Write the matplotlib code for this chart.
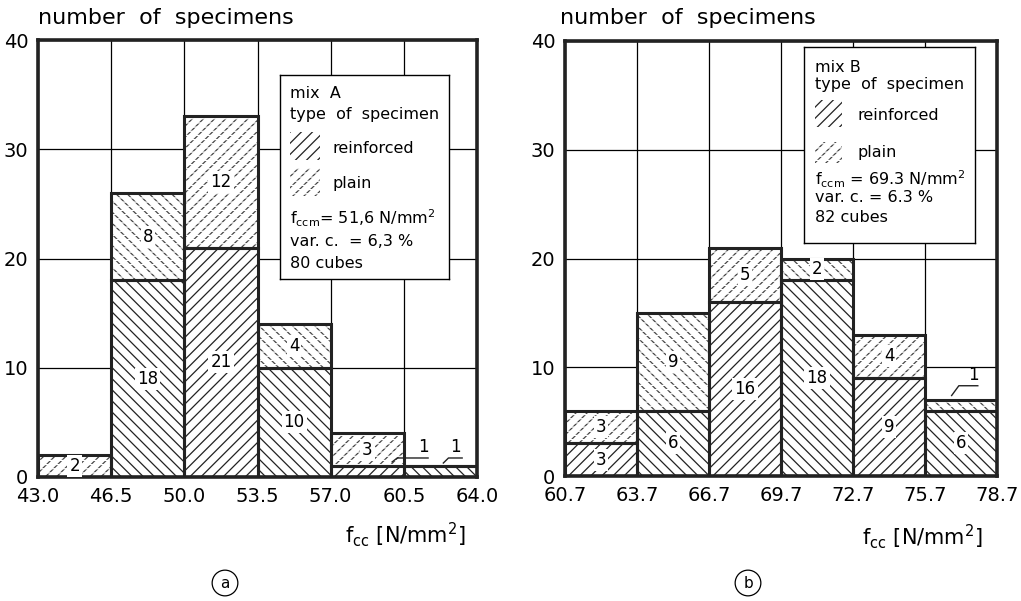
import numpy as np
import matplotlib
matplotlib.use("Agg")
import matplotlib.pyplot as plt
from matplotlib.patches import Rectangle

plt.rcParams["font.family"] = "DejaVu Sans"
plt.rcParams["mathtext.default"] = "regular"
plt.rcParams["hatch.linewidth"] = 0.9

# mix A (panel a)
edges_a = [43.0, 46.5, 50.0, 53.5, 57.0, 60.5, 64.0]
ticks_a = ["43.0", "46.5", "50.0", "53.5", "57.0", "60.5", "64.0"]
reinf_a = [0, 18, 21, 10, 1, 1]
plain_a = [2, 8, 12, 4, 3, 0]
legend_a = ["mix  A", "type  of  specimen", "reinforced", "plain",
            "f$_{ccm}$= 51,6 N/mm$^2$", "var. c.  = 6,3 %", "80 cubes"]

# mix B (panel b)
edges_b = [60.7, 63.7, 66.7, 69.7, 72.7, 75.7, 78.7]
ticks_b = ["60.7", "63.7", "66.7", "69.7", "72.7", "75.7", "78.7"]
reinf_b = [3, 6, 16, 18, 9, 6]
plain_b = [3, 9, 5, 2, 4, 1]
legend_b = ["mix B", "type  of  specimen", "reinforced", "plain",
            "f$_{ccm}$ = 69.3 N/mm$^2$", "var. c. = 6.3 %", "82 cubes"]

W, H = 1021, 601
DARK = "#222222"
HATCH_R = "///"
HATCH_L = "\\\\\\"
CUT = "----"


def fig_rect(x0, y0, x1, y1):
    # pixel box -> figure fraction rect
    return [x0 / W, 1 - y1 / H, (x1 - x0) / W, (y1 - y0) / H]


def draw_panel(ax, edges, ticks, reinf, plain):
    left = np.array(edges[:-1])
    width = np.diff(edges)
    reinf = np.array(reinf)
    plain = np.array(plain)
    hatches = [HATCH_R if i % 2 == 0 else HATCH_L for i in range(len(left))]

    for i in range(len(left)):
        # reinforced part
        ax.bar(left[i], reinf[i], width[i], align="edge", color="white",
               edgecolor=DARK, lw=0, hatch=hatches[i], zorder=2)
        # plain part, hatch broken into dashes by white lines
        ax.bar(left[i], plain[i], width[i], bottom=reinf[i], align="edge",
               color="white", edgecolor="#444444", lw=0, hatch=hatches[i], zorder=2)
        ax.bar(left[i], plain[i], width[i], bottom=reinf[i], align="edge",
               fill=False, edgecolor="white", lw=0, hatch=CUT, zorder=2.1)
        # outlines
        ax.bar(left[i], reinf[i], width[i], align="edge", fill=False,
               edgecolor=DARK, lw=2.2, zorder=3)
        ax.bar(left[i], plain[i], width[i], bottom=reinf[i], align="edge",
               fill=False, edgecolor=DARK, lw=2.2, zorder=3)

        for val, base in ((reinf[i], 0), (plain[i], reinf[i])):
            if val >= 2:
                ax.text(left[i] + width[i] / 2, base + val / 2, str(val),
                        ha="center", va="center", fontsize=12, zorder=4,
                        bbox=dict(facecolor="white", edgecolor="none", pad=1.5))

    ax.set_xlim(edges[0], edges[-1])
    ax.set_ylim(0, 40)
    ax.set_xticks(edges)
    ax.set_xticklabels(ticks)
    ax.set_yticks([0, 10, 20, 30, 40])
    ax.grid(True, color="black", lw=0.9)
    ax.set_axisbelow(True)
    ax.tick_params(length=0, labelsize=14, pad=7)
    for s in ax.spines.values():
        s.set_linewidth(2.6)
        s.set_color(DARK)


def leader(ax, edges, i, top, f0, f1, x_end, dy0, dy1, label_x):
    w = edges[i + 1] - edges[i]
    xs = [edges[i] + f0 * w, edges[i] + f1 * w, x_end]
    ys = [top + dy0, top + dy1, top + dy1]
    ax.plot(xs, ys, color=DARK, lw=1, zorder=5)
    ax.text(label_x, top + dy1 + 0.15, "1", ha="center", va="bottom",
            fontsize=12, zorder=5)


def draw_legend(rect, lines, layout):
    x0, y0, x1, y1 = rect
    lax = fig.add_axes(fig_rect(*rect))
    lax.set_xlim(0, x1 - x0)
    lax.set_ylim(y1 - y0, 0)
    lax.set_xticks([])
    lax.set_yticks([])
    lax.set_facecolor("white")
    for s in lax.spines.values():
        s.set_linewidth(1.0)
    tx, sw, lx, ys, sy = layout
    # text lines
    for k in [0, 1, 4, 5, 6]:
        lax.text(tx, ys[k], lines[k], fontsize=11.5, va="center", ha="left")
    # swatches
    lax.add_patch(Rectangle((tx, sy[0][0]), sw, sy[0][1] - sy[0][0], facecolor="white",
                            edgecolor=DARK, lw=0, hatch=HATCH_R))
    lax.add_patch(Rectangle((tx, sy[1][0]), sw, sy[1][1] - sy[1][0], facecolor="white",
                            edgecolor="#444444", lw=0, hatch=HATCH_R))
    lax.add_patch(Rectangle((tx, sy[1][0]), sw, sy[1][1] - sy[1][0], fill=False,
                            edgecolor="white", lw=0, hatch=CUT))
    lax.text(lx, ys[2], lines[2], fontsize=11.5, va="center", ha="left")
    lax.text(lx, ys[3], lines[3], fontsize=11.5, va="center", ha="left")


fig = plt.figure(figsize=(W / 100, H / 100), dpi=100)
ax_a = fig.add_axes(fig_rect(38, 40, 477, 477))
ax_b = fig.add_axes(fig_rect(565, 41, 997, 476))

draw_panel(ax_a, edges_a, ticks_a, reinf_a, plain_a)
draw_panel(ax_b, edges_b, ticks_b, reinf_b, plain_b)

# small counts with leader lines
leader(ax_a, edges_a, 4, reinf_a[4], 0.84, 0.91, 61.66, 0.38, 0.74, 61.42)
leader(ax_a, edges_a, 5, reinf_a[5], 0.54, 0.61, 63.29, 0.28, 0.74, 62.95)
leader(ax_b, edges_b, 5, reinf_b[5] + plain_b[5], 0.37, 0.47, 77.9, 0.4, 1.3, 77.7)

draw_legend((280, 75, 449, 279), legend_a,
            (10, 30, 53, [18, 39, 73, 108, 143, 167, 188], [(57, 85), (93, 121)]))
draw_legend((804, 47, 975, 243), legend_b,
            (11, 27, 53, [20, 38, 69, 106, 132, 151, 171], [(53, 80), (95, 116)]))

for x in (38, 560):
    fig.text(x / W, 1 - 18 / H, "number  of  specimens", fontsize=16, va="center", ha="left")

fig.text(405 / W, 1 - 535 / H, "f$_{cc}$ [N/mm$^2$]", fontsize=15, ha="center", va="center")
fig.text(922 / W, 1 - 537 / H, "f$_{cc}$ [N/mm$^2$]", fontsize=15, ha="center", va="center")

for x, lab in ((225, "a"), (748, "b")):
    fig.text(x / W, 1 - 583 / H, lab, fontsize=11, ha="center", va="center",
             bbox=dict(boxstyle="circle,pad=0.35", facecolor="white", edgecolor="black", lw=0.9))

fig.savefig("out.png", dpi=100)
